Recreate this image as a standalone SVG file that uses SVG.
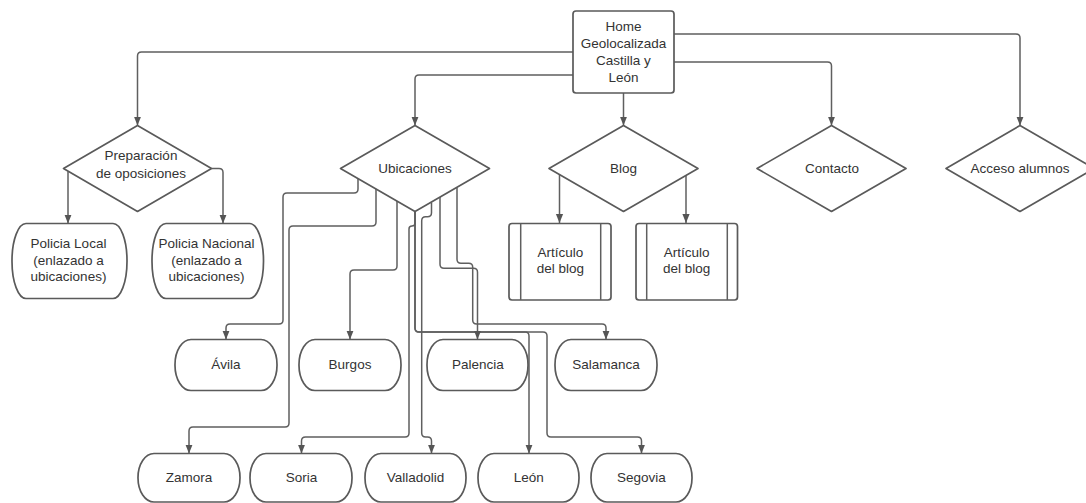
<svg xmlns="http://www.w3.org/2000/svg" width="1086" height="503" viewBox="0 0 1086 503">
<defs>
<style>
.n{fill:#fff;stroke:#5a5a5a;stroke-width:1.7;stroke-linejoin:round}
.c{fill:none;stroke:#5f5f5f;stroke-width:1.5;marker-end:url(#arr)}
.c0{fill:none;stroke:#5f5f5f;stroke-width:1.5}
text{font-family:"Liberation Sans",Arial,sans-serif;font-size:13.5px;fill:#333;text-anchor:middle}
</style>
<marker id="arr" viewBox="0 0 10 10" refX="10" refY="5" markerWidth="9" markerHeight="9" markerUnits="userSpaceOnUse" orient="auto">
<path d="M0,1 L10,5 L0,9 z" fill="#555"/>
</marker>
</defs>
<rect width="1086" height="503" fill="#fff"/>

<g id="connectors">
<path class="c" d="M573,52 H141.5 Q137.5,52 137.5,56 V125.5"/>
<path class="c" d="M573,75 H419 Q415,75 415,79 V125.5"/>
<path class="c" d="M623.5,93 V125.5"/>
<path class="c" d="M674,62 H827.5 Q831.5,62 831.5,66 V125.5"/>
<path class="c" d="M674,34 H1016 Q1020,34 1020,38 V125.5"/>
<path class="c" d="M68,171.5 V223.5"/>
<path class="c" d="M211.5,168.5 H219 Q223,168.5 223,172.5 V223.5"/>
<path class="c" d="M559.5,174 V223"/>
<path class="c" d="M686,175.5 V223"/>
<path class="c" d="M358,178.6 V189 Q358,193 354,193 H287 Q283,193 283,197 V320 Q283,324 279,324 H230 Q226,324 226,328 V339.5"/>
<path class="c" d="M376,189 V222 Q376,226 372,226 H293 Q289,226 289,230 V423 Q289,427 285,427 H193 Q189,427 189,431 V453.5"/>
<path class="c" d="M397,201 V266 Q397,270 393,270 H354 Q350,270 350,274 V339.5"/>
<path class="c" d="M415,211.5 V223 Q415,226 412,226 Q409,226 409,229 V433 Q409,437 405,437 H305.5 Q301.5,437 301.5,441 V453.5"/>
<path class="c" d="M431.5,202.5 V212.7 Q431.5,216.7 427.5,216.7 H425.7 Q421.7,216.7 421.7,220.7 V433 Q421.7,437 425.7,437 H427.5 Q431.5,437 431.5,441 V453.5"/>
<path class="c" d="M415,211.5 V328 Q415,332 419,332 H543 Q547,332 547,336 V433 Q547,437 551,437 H637.5 Q641.5,437 641.5,441 V453.5"/>
<path class="c" d="M415,211.5 V328 Q415,332 419,332 H525 Q529,332 529,336 V453.5"/>
<path class="c" d="M440,197 V264.3 Q440,268.3 444,268.3 H473.5 Q477.5,268.3 477.5,272.3 V339.5"/>
<path class="c" d="M457,187.5 V259.3 Q457,263.3 461,263.3 H468.7 Q472.7,263.3 472.7,267.3 V320 Q472.7,324 476.7,324 H602 Q606,324 606,328 V339.5"/>
</g>

<g id="home">
<rect class="n" x="573" y="11" width="101" height="82" rx="3"/>
<text x="623.5" y="31">Home</text>
<text x="623.5" y="48">Geolocalizada</text>
<text x="623.5" y="65">Castilla y</text>
<text x="623.5" y="82">León</text>
</g>

<g id="preparacion">
<polygon class="n" points="137.5,125.5 211.5,168.5 137.5,211.5 63.5,168.5"/>
<text x="141" y="160">Preparación</text>
<text x="141" y="177.5">de oposiciones</text>
</g>

<g id="ubicaciones">
<polygon class="n" points="415,125.5 489.5,168.5 415,211.5 340.5,168.5"/>
<text x="415" y="173">Ubicaciones</text>
</g>

<g id="blog">
<polygon class="n" points="623.5,125.5 698,168.5 623.5,211.5 549,168.5"/>
<text x="623.5" y="173">Blog</text>
</g>

<g id="contacto">
<polygon class="n" points="831.5,125.5 906,168.5 831.5,211.5 757,168.5"/>
<text x="832" y="173">Contacto</text>
</g>

<g id="acceso">
<polygon class="n" points="1020,125.5 1094,168.5 1020,211.5 946,168.5"/>
<text x="1020" y="173">Acceso alumnos</text>
</g>

<g id="policia-local">
<rect class="n" x="12" y="223.5" width="115" height="75" rx="14" ry="37"/>
<text x="68.5" y="248">Policia Local</text>
<text x="68.5" y="264.7">(enlazado a</text>
<text x="68.5" y="281.4">ubicaciones)</text>
</g>

<g id="policia-nacional">
<rect class="n" x="152" y="223.5" width="111.5" height="75" rx="14" ry="37"/>
<text x="206.5" y="248">Policia Nacional</text>
<text x="206.5" y="264.7">(enlazado a</text>
<text x="206.5" y="281.4">ubicaciones)</text>
</g>

<g id="articulo-1">
<rect class="n" x="509" y="223.5" width="102" height="76.5" rx="3"/>
<line class="c0" x1="520.7" y1="223.5" x2="520.7" y2="300"/>
<line class="c0" x1="600.7" y1="223.5" x2="600.7" y2="300"/>
<text x="560.3" y="256.5">Artículo</text>
<text x="560.3" y="273">del blog</text>
</g>

<g id="articulo-2">
<rect class="n" x="636" y="223.5" width="101.5" height="76.5" rx="3"/>
<line class="c0" x1="646.7" y1="223.5" x2="646.7" y2="300"/>
<line class="c0" x1="727.3" y1="223.5" x2="727.3" y2="300"/>
<text x="686.7" y="256.5">Artículo</text>
<text x="686.7" y="273">del blog</text>
</g>

<g id="avila">
<rect class="n" x="175" y="339.5" width="102" height="51" rx="16" ry="25"/>
<text x="226" y="368.5">Ávila</text>
</g>
<g id="burgos">
<rect class="n" x="299" y="339.5" width="102" height="51" rx="16" ry="25"/>
<text x="350" y="368.5">Burgos</text>
</g>
<g id="palencia">
<rect class="n" x="427" y="339.5" width="101" height="51" rx="16" ry="25"/>
<text x="478" y="368.5">Palencia</text>
</g>
<g id="salamanca">
<rect class="n" x="555" y="339.5" width="102" height="51" rx="16" ry="25"/>
<text x="606" y="368.5">Salamanca</text>
</g>

<g id="zamora">
<rect class="n" x="138" y="453.5" width="102" height="48.5" rx="16" ry="24"/>
<text x="189" y="482">Zamora</text>
</g>
<g id="soria">
<rect class="n" x="250" y="453.5" width="102" height="48.5" rx="16" ry="24"/>
<text x="301.5" y="482">Soria</text>
</g>
<g id="valladolid">
<rect class="n" x="365" y="453.5" width="101" height="48.5" rx="16" ry="24"/>
<text x="415.5" y="482">Valladolid</text>
</g>
<g id="leon">
<rect class="n" x="478" y="453.5" width="101" height="48.5" rx="16" ry="24"/>
<text x="528.7" y="482">León</text>
</g>
<g id="segovia">
<rect class="n" x="591" y="453.5" width="101" height="48.5" rx="16" ry="24"/>
<text x="641.5" y="482">Segovia</text>
</g>
</svg>
